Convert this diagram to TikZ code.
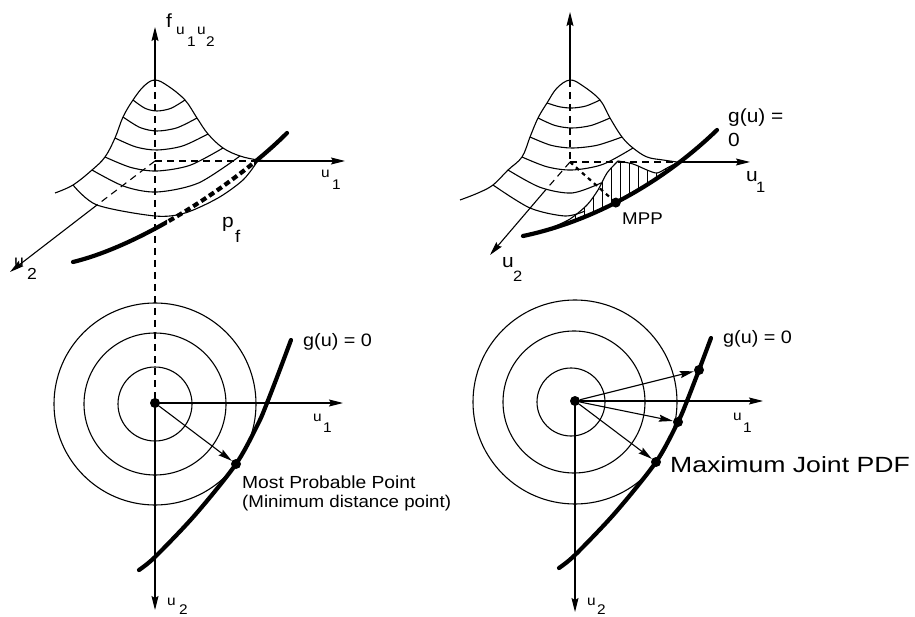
\documentclass[tikz,border=0pt]{standalone}
\usepackage{fontspec}
\setmainfont{Liberation Sans}
\newfontfamily\lab[FakeStretch=1.1]{Liberation Sans}
\usetikzlibrary{arrows.meta}
\newcommand{\fsz}[1]{\fontsize{#1}{#1}\selectfont}
\begin{document}
\begin{tikzpicture}[x=1pt,y=-1pt,
  thinline/.style={line width=1.1pt},
  axis/.style={line width=1.1pt,-{Stealth[length=14pt,width=7pt,inset=2pt]}},
  dashedaxis/.style={line width=1.1pt,dash pattern=on 7pt off 5pt},
  limit/.style={line width=4.2pt,line cap=round},
  limitdash/.style={line width=4.2pt,dash pattern=on 6pt off 3.5pt},
  hatchline/.style={line width=0.9pt},
  lbl/.style={inner sep=0pt,anchor=base west},
  dotpt/.style={circle,fill=black,inner sep=0pt,minimum size=10pt},
]
\useasboundingbox (0,0) rectangle (915,617);

% ================= TOP LEFT =================
\coordinate (tlO) at (155,161);
\coordinate (tlP) at (155,80);
\coordinate (tlZ) at (155,27);
\coordinate (tlXb) at (258,161);
\coordinate (tlX) at (345,161);
\coordinate (tlYb) at (97,205);
\coordinate (tlY) at (10,272);
\coordinate (blO) at (155,403);

% surface outline
\draw[thinline] plot[smooth,tension=0.6] coordinates {(55,193) (73,185) (92,170) (105,157) (115,138) (123,117) (133,100) (144,86) (155,80) (168,86) (185,100) (197,118) (208,134) (223,148) (240,156) (258,160) (272,161)};
% contours
\draw[thinline] plot[smooth] coordinates {(133,100) (145,108.3) (157,111) (171,108.3) (185,100)};
\draw[thinline] plot[smooth] coordinates {(123,117) (140,127.5) (157,131) (177,127.8) (197,118)};
\draw[thinline] plot[smooth] coordinates {(115,138) (136,147) (157,150) (182.5,146) (208,134)};
\draw[thinline] plot[smooth] coordinates {(105,157) (131,167.5) (157,171) (190,165.3) (223,148)};
\draw[thinline] plot[smooth] coordinates {(92,170) (124.5,186.5) (157,192) (198.5,183) (240,156)};
\draw[thinline] plot[smooth] coordinates {(73,185) (97,205) (155,216) (185,213) (218,198) (243,180) (257,162)};

% axes
\draw[axis] (tlP) -- (tlZ);
\draw[dashedaxis] (tlP) -- (blO);
\draw[dashedaxis] (tlO) -- (tlXb);
\draw[axis] (tlXb) -- (tlX);
\draw[dashedaxis] (tlO) -- (tlYb);
\draw[axis] (tlYb) -- (tlY);

% limit state curve (solid / dashed / solid)
\coordinate (tlLa) at (73,262);
\coordinate (tlLb) at (287,133);
\begin{scope}
  \clip (0,0) rectangle (167,617);
  \draw[limit] (tlLa) .. controls (143,245) and (237,183) .. (tlLb);
\end{scope}
\begin{scope}
  \clip (167,0) rectangle (254,617);
  \draw[limitdash] (tlLa) .. controls (143,245) and (237,183) .. (tlLb);
\end{scope}
\begin{scope}
  \clip (254,0) rectangle (400,617);
  \draw[limit] (tlLa) .. controls (143,245) and (237,183) .. (tlLb);
\end{scope}

% labels
\node[lbl,font=\lab\fsz{19}] (tlf) at (166,28) {f};
\node[lbl,font=\lab\fsz{14}] (tlfu1) at (176,35) {u};
\node[lbl,font=\lab\fsz{14}] (tlf1) at (187,47) {1};
\node[lbl,font=\lab\fsz{14}] (tlfu2) at (197,35) {u};
\node[lbl,font=\lab\fsz{14}] (tlf2) at (206,47) {2};
\node[lbl,font=\lab\fsz{14}] (tlu1) at (321,178) {u};
\node[lbl,font=\lab\fsz{14}] (tlu1n) at (332,190) {1};
\node[lbl,font=\lab\fsz{16}] (tlu2) at (14,267) {u};
\node[lbl,font=\lab\fsz{16}] (tlu2n) at (27,280) {2};
\node[lbl,font=\lab\fsz{19}] (tlp) at (222,228) {p};
\node[lbl,font=\lab\fsz{17}] (tlpf) at (235,243) {f};

% ================= TOP RIGHT =================
\coordinate (trO) at (570,162);
\coordinate (trP) at (570,80);
\coordinate (trZ) at (570,12);
\coordinate (trXb) at (679,162);
\coordinate (trX) at (750,162);
\coordinate (trYb) at (543,193);
\coordinate (trY) at (490,255);

\draw[thinline] plot[smooth,tension=0.6] coordinates {(460,200) (478,193) (493,185) (508,170) (522,157) (530,137) (538,118) (547,103) (557,88) (570,80) (583,86) (600,100) (610,118) (622,137) (633,148) (647,157) (663,160) (677,162)};
\draw[thinline] plot[smooth] coordinates {(547,103) (559.5,106.8) (572,108) (586,106) (600,100)};
\draw[thinline] plot[smooth] coordinates {(538,118) (555,125.5) (572,128) (591,125.5) (610,118)};
\draw[thinline] plot[smooth] coordinates {(530,137) (551,145.3) (572,148) (597,145.3) (622,137)};
\draw[thinline] plot[smooth] coordinates {(522,157) (547,166.8) (572,170) (602.5,164.5) (633,148)};
\draw[thinline] plot[smooth] coordinates {(508,170) (540,187.3) (572,193) (601,183)};
\draw[thinline] plot[smooth] coordinates {(493,185) (530,208) (565,216) (585,211)};

% hatched region
\begin{scope}
  \clip (523,236) .. controls (590,222) and (660,185) .. (717,130) -- (717,100) -- (523,100) -- cycle;
  \clip plot[smooth] coordinates {(553,227) (570,219) (587,205) (598,190) (607,173) (618,161)} -- plot[smooth] coordinates {(618,161) (633,164) (647,170) (657,173) (667,168) (680,161)} -- (720,161) -- (720,260) -- (553,260) -- cycle;
  \foreach \x in {557,566,...,700} \draw[hatchline] (\x,120) -- (\x,250);
\end{scope}
\draw[thinline] plot[smooth] coordinates {(553,227) (570,219) (587,205) (598,190) (607,173) (618,161)};
\draw[thinline] plot[smooth] coordinates {(618,161) (633,164) (647,170) (657,173) (667,168) (680,161)};

% axes
\draw[axis] (trP) -- (trZ);
\draw[dashedaxis] (trP) -- (trO);
\draw[dashedaxis] (trO) -- (trXb);
\draw[axis] (trXb) -- (trX);
\draw[dashedaxis] (trO) -- (trYb);
\draw[axis] (trYb) -- (trY);

% limit state curve
\draw[limit] (523,236) .. controls (590,222) and (660,185) .. (717,130) coordinate[pos=0.46] (trM);
\node[dotpt] (trMPP) at (trM) {};
\draw[line width=2.2pt,dash pattern=on 4pt off 4pt] (trO) -- (trMPP);

% labels
\node[lbl,font=\lab\fsz{19}] (trgu) at (728,123) {g(u) =};
\node[lbl,font=\lab\fsz{19}] (trg0) at (728,147) {0};
\node[lbl,font=\lab\fsz{17}] (trmpplbl) at (622,225) {MPP};
\node[lbl,font=\lab\fsz{19}] (tru1) at (746,182) {u};
\node[lbl,font=\lab\fsz{15}] (tru1n) at (756,193) {1};
\node[lbl,font=\lab\fsz{19}] (tru2) at (502,268) {u};
\node[lbl,font=\lab\fsz{15}] (tru2n) at (513,282) {2};

% ================= BOTTOM LEFT =================
\coordinate (blX) at (343,403);
\coordinate (blY) at (155,610);
\draw[thinline] (155,404) circle[radius=37];
\draw[thinline] (155,404) circle[radius=71];
\draw[thinline] (155,404) circle[radius=101];
\draw[limit] plot[smooth] coordinates {(139,570) (155,557) (195,515) (236,464) (258,424) (267,403) (279,372) (291,340)};
\node[dotpt] (blOdot) at (blO) {};
\node[dotpt] (blMPP) at (236,464) {};
\draw[axis] (blO) -- (blX);
\draw[axis] (blO) -- (blY);
\draw[axis] (blOdot) -- (blMPP);

\node[lbl,font=\lab\fsz{18}] (blg) at (303,347) {g(u) = 0};
\node[lbl,font=\lab\fsz{14}] (blu1) at (313,421) {u};
\node[lbl,font=\lab\fsz{14}] (blu1n) at (323,432) {1};
\node[lbl,font=\lab\fsz{14}] (blu2) at (167,605) {u};
\node[lbl,font=\lab\fsz{14}] (blu2n) at (179,614) {2};
\node[lbl,font=\lab\fsz{17.5}] (blmpp1) at (242,488) {Most Probable Point};
\node[lbl,font=\lab\fsz{17}] (blmpp2) at (242,507) {(Minimum distance point)};

% ================= BOTTOM RIGHT =================
\coordinate (brO) at (575,401);
\coordinate (brX) at (763,401);
\coordinate (brY) at (575,612);
\draw[thinline] (571,402) circle[radius=34];
\draw[thinline] (574,402) circle[radius=71];
\draw[thinline] (575,402) circle[radius=102];
\draw[limit] plot[smooth] coordinates {(559,568) (575,555) (615,513) (656,462) (678,422) (687,401) (699,370) (711,338)};
\node[dotpt] (brOdot) at (brO) {};
\node[dotpt] (brD1) at (699,370) {};
\node[dotpt] (brD2) at (678,422) {};
\node[dotpt] (brD3) at (656,462) {};
\draw[axis] (brO) -- (brX);
\draw[axis] (brO) -- (brY);
\draw[axis] (brOdot) -- (brD1);
\draw[axis] (brOdot) -- (brD2);
\draw[axis] (brOdot) -- (brD3);

\node[lbl,font=\lab\fsz{18}] (brg) at (723,343) {g(u) = 0};
\node[lbl,font=\lab\fsz{14}] (bru1) at (733,420) {u};
\node[lbl,font=\lab\fsz{14}] (bru1n) at (743,432) {1};
\node[lbl,font=\lab\fsz{14}] (bru2) at (587,605) {u};
\node[lbl,font=\lab\fsz{14}] (bru2n) at (597,614) {2};
\node[lbl,font=\lab\fsz{22}] (brmax) at (670,472) {\scalebox{1.1}[1]{Maximum Joint PDF}};
\end{tikzpicture}
\end{document}
